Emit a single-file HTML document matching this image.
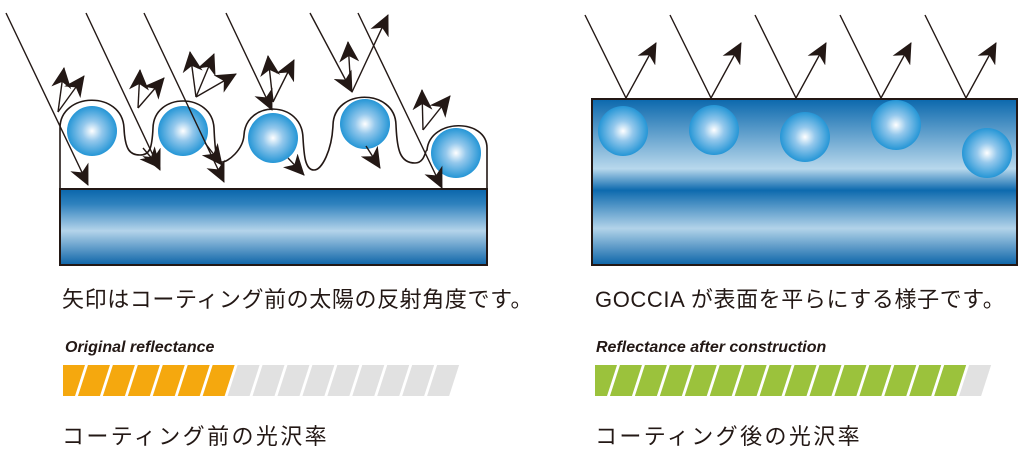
<!DOCTYPE html>
<html><head><meta charset="utf-8"><style>
body{margin:0;background:#fff;width:1024px;height:452px;overflow:hidden;}
svg{display:block}
.jp{font-family:"Liberation Sans","Noto Sans CJK JP",sans-serif;font-size:22px;fill:#231815;}
.lb{font-family:"Liberation Sans",sans-serif;font-size:16px;font-weight:bold;font-style:italic;fill:#231815;}
</style></head><body>
<svg width="1024" height="452" viewBox="0 0 1024 452" xmlns="http://www.w3.org/2000/svg">
<defs>
<radialGradient id="sp" cx="50%" cy="50%" r="50%">
<stop offset="0" stop-color="#ffffff"/><stop offset="0.4" stop-color="#94c8ec"/><stop offset="1" stop-color="#2596d6"/>
</radialGradient>
<linearGradient id="sub" x1="0" y1="0" x2="0" y2="1">
<stop offset="0" stop-color="#0a66ab"/><stop offset="0.2" stop-color="#2f82be"/><stop offset="0.55" stop-color="#b4d4ea"/><stop offset="1" stop-color="#0d64a8"/>
</linearGradient>
<linearGradient id="box" x1="0" y1="0" x2="0" y2="1">
<stop offset="0" stop-color="#0b68ad"/><stop offset="0.42" stop-color="#b8d8ec"/><stop offset="0.55" stop-color="#0d6aae"/><stop offset="0.78" stop-color="#b2d3e9"/><stop offset="1" stop-color="#0c64a8"/>
</linearGradient>
<marker id="ah" markerUnits="userSpaceOnUse" markerWidth="24" markerHeight="20" refX="20" refY="10" orient="auto">
<path d="M0,0 L21,10 L0,20 L6,10 z" fill="#231815"/>
</marker>
<clipPath id="c1"><rect x="63" y="365" width="400" height="32"/></clipPath>
<clipPath id="c2"><rect x="595" y="365" width="400" height="32"/></clipPath>
</defs>

<!-- LEFT DIAGRAM -->
<rect x="60" y="189" width="427" height="76" fill="url(#sub)" stroke="#231815" stroke-width="2"/>
<circle cx="92" cy="131" r="25" fill="url(#sp)"/>
<circle cx="183" cy="131" r="25" fill="url(#sp)"/>
<circle cx="273" cy="138" r="25" fill="url(#sp)"/>
<circle cx="365" cy="124" r="25" fill="url(#sp)"/>
<circle cx="456" cy="153" r="25" fill="url(#sp)"/>
<path d="M60,189 L60,128 C60,92 122,90 124,128 C125,150 130,155 140,155 C150,155 152,148 153,128 C154,92 212,92 214,128 C215,150 216,162 222,162 C228,162 243,150 244,135 C246,100 302,100 303,138 C304,155 305,170 314,170 C322,170 332,150 333,125 C334,88 395,88 396,125 C397,150 400,163 415,163 C425,163 425,150 427,150 C430,118 487,118 487,148 L487,189" fill="none" stroke="#231815" stroke-width="1.6"/>
<g stroke="#231815" stroke-width="1.4" fill="none" marker-end="url(#ah)">
<line x1="6" y1="13" x2="88" y2="185"/>
<line x1="86" y1="13" x2="160" y2="170"/>
<line x1="144" y1="13" x2="224" y2="182"/>
<line x1="226" y1="13" x2="272" y2="110" marker-end=""/>
<line x1="288" y1="158" x2="304" y2="175"/>
<line x1="310" y1="13" x2="352" y2="92" marker-end=""/>
<line x1="352" y1="92" x2="388" y2="15"/>
<line x1="358" y1="13" x2="442" y2="188"/>
<line x1="366" y1="146" x2="380" y2="168"/>
<line x1="205" y1="143" x2="222" y2="165"/>
<line x1="143" y1="148" x2="160" y2="168"/>
<line x1="58" y1="112" x2="64" y2="68"/>
<line x1="58" y1="112" x2="84" y2="76"/>
<line x1="138" y1="108" x2="140" y2="70"/>
<line x1="138" y1="108" x2="164" y2="78"/>
<line x1="196" y1="97" x2="190" y2="52"/>
<line x1="196" y1="97" x2="214" y2="54"/>
<line x1="196" y1="97" x2="236" y2="74"/>
<line x1="273" y1="102" x2="268" y2="56"/>
<line x1="273" y1="102" x2="294" y2="60"/>
<line x1="350" y1="75" x2="348" y2="42"/>
<line x1="423" y1="130" x2="422" y2="90"/>
<line x1="423" y1="130" x2="450" y2="96"/>
</g>

<!-- RIGHT DIAGRAM -->
<rect x="592" y="99" width="425" height="166" fill="url(#box)" stroke="#231815" stroke-width="2"/>
<circle cx="623" cy="131" r="25" fill="url(#sp)"/>
<circle cx="714" cy="130" r="25" fill="url(#sp)"/>
<circle cx="805" cy="137" r="25" fill="url(#sp)"/>
<circle cx="896" cy="125" r="25" fill="url(#sp)"/>
<circle cx="987" cy="153" r="25" fill="url(#sp)"/>
<g stroke="#231815" stroke-width="1.4" fill="none">
<polyline points="585,15 626,98 656,43" marker-end="url(#ah)"/>
<polyline points="670,15 711,98 741,43" marker-end="url(#ah)"/>
<polyline points="755,15 796,98 826,43" marker-end="url(#ah)"/>
<polyline points="840,15 881,98 911,43" marker-end="url(#ah)"/>
<polyline points="925,15 966,98 996,43" marker-end="url(#ah)"/>
</g>

<!-- TEXT -->
<text class="jp" x="62" y="307" letter-spacing="0.6">矢印はコーティング前の太陽の反射角度です。</text>
<text class="jp" x="595" y="307" letter-spacing="0.6">GOCCIA が表面を平らにする様子です。</text>
<text class="lb" x="65" y="352">Original reflectance</text>
<text class="lb" x="596" y="352">Reflectance after construction</text>
<text class="jp" x="62" y="444" letter-spacing="2.4">コーティング前の光沢率</text>
<text class="jp" x="595" y="444" letter-spacing="2.4">コーティング後の光沢率</text>

<!-- BARS -->
<g clip-path="url(#c1)">
<g transform="translate(0,396) skewX(-17.9)">
<g fill="#f5a80e">
<rect x="53" y="-31" width="22" height="31"/>
<rect x="77.94" y="-31" width="22" height="31"/>
<rect x="102.88" y="-31" width="22" height="31"/>
<rect x="127.82" y="-31" width="22" height="31"/>
<rect x="152.76" y="-31" width="22" height="31"/>
<rect x="177.7" y="-31" width="22" height="31"/>
<rect x="202.64" y="-31" width="22" height="31"/>
</g>
<g fill="#e1e1e1">
<rect x="227.58" y="-31" width="22" height="31"/>
<rect x="252.52" y="-31" width="22" height="31"/>
<rect x="277.46" y="-31" width="22" height="31"/>
<rect x="302.4" y="-31" width="22" height="31"/>
<rect x="327.34" y="-31" width="22" height="31"/>
<rect x="352.28" y="-31" width="22" height="31"/>
<rect x="377.22" y="-31" width="22" height="31"/>
<rect x="402.16" y="-31" width="22" height="31"/>
<rect x="427.1" y="-31" width="22" height="31"/>
</g>
</g>
</g>
<g clip-path="url(#c2)">
<g transform="translate(0,396) skewX(-17.9)">
<g fill="#9bc23c">
<rect x="585" y="-31" width="22" height="31"/>
<rect x="609.94" y="-31" width="22" height="31"/>
<rect x="634.88" y="-31" width="22" height="31"/>
<rect x="659.82" y="-31" width="22" height="31"/>
<rect x="684.76" y="-31" width="22" height="31"/>
<rect x="709.7" y="-31" width="22" height="31"/>
<rect x="734.64" y="-31" width="22" height="31"/>
<rect x="759.58" y="-31" width="22" height="31"/>
<rect x="784.52" y="-31" width="22" height="31"/>
<rect x="809.46" y="-31" width="22" height="31"/>
<rect x="834.4" y="-31" width="22" height="31"/>
<rect x="859.34" y="-31" width="22" height="31"/>
<rect x="884.28" y="-31" width="22" height="31"/>
<rect x="909.22" y="-31" width="22" height="31"/>
<rect x="934.16" y="-31" width="22" height="31"/>
</g>
<rect x="959.1" y="-31" width="22" height="31" fill="#e1e1e1"/>
</g>
</g>
</svg>
</body></html>
